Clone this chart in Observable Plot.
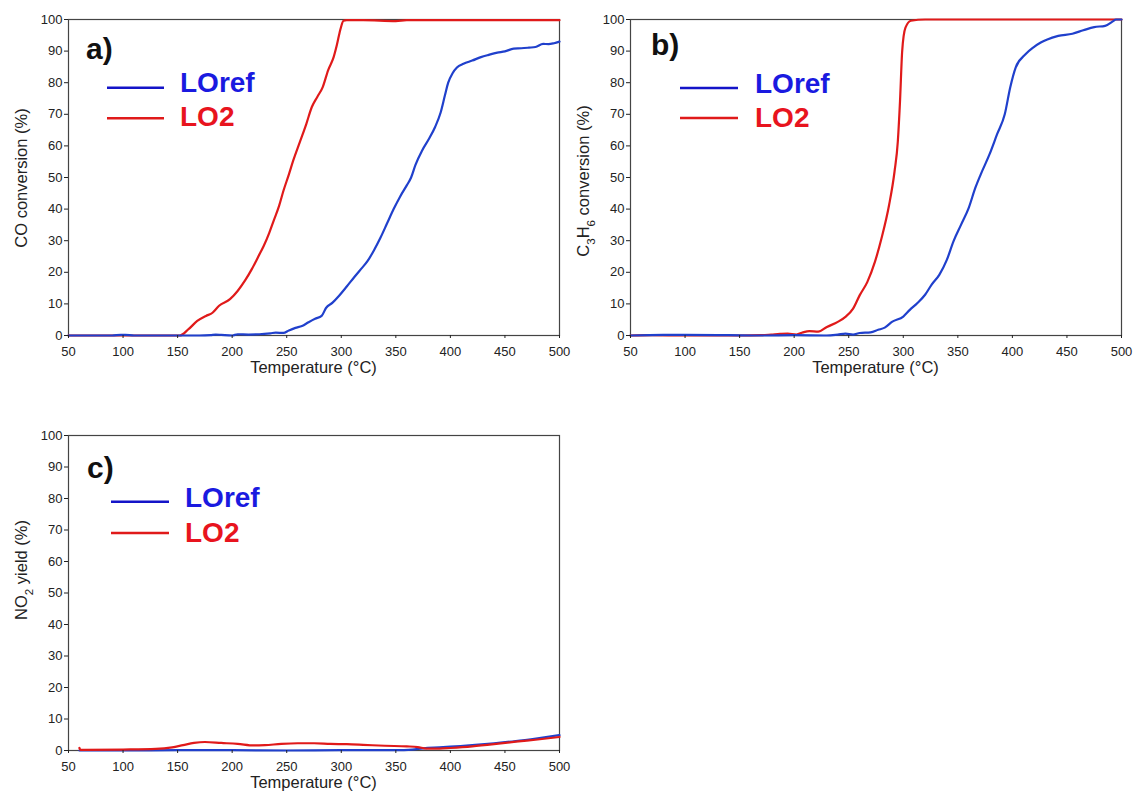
<!DOCTYPE html>
<html><head><meta charset="utf-8">
<script src="https://cdn.jsdelivr.net/npm/d3@7"></script>
<script src="https://cdn.jsdelivr.net/npm/@observablehq/plot@0.6"></script>
<style>
body{margin:0;background:#fff;}
#wrap{position:relative;width:1136px;height:794px;overflow:hidden;background:#fff;font-family:"Liberation Sans",Arial,sans-serif;}
#wrap svg{position:absolute;}
</style></head><body><div id="wrap"></div>
<script>
// ---------- data ----------
const xTicks = [50,100,150,200,250,300,350,400,450,500];
const yTicks = [0,10,20,30,40,50,60,70,80,90,100];
const seriesNames = ["LOref","LO2"];

// a) CO conversion
const coRefT = [50,60,70,80,90,98,102,110,120,130,140,150,160,170,180,185,190,200,205,215,225,235,240,247,252,258,264,270,276,282,286,292,298,305,312,318,324,330,336,342,348,354,360,364,368,374,380,386,391,395,398,402,406,412,420,428,435,443,450,458,465,472,478,485,490,495,500];
const coRefY = [0,0,0,0,0,0.2,0.2,0,0,0,0,0,0,0,0.1,0.3,0.2,0,0.4,0.3,0.4,0.7,0.9,0.8,1.6,2.4,3,4.2,5.3,6.2,8.7,10.4,12.6,15.5,18.5,21,23.5,27,31,35.5,40,44,47.5,50,54,58.5,62,66,70.5,76,80,83,84.8,86,87,88.1,88.8,89.5,89.9,90.8,90.9,91.1,91.3,92.3,92.2,92.5,93];
const coLO2T = [50,100,152,160,168,176,182,188,198,205,212,218,224,229,234,238,243,247,252,256,262,268,273,278,283,288,293,296,299,302,305,320,350,360,400,450,500];
const coLO2Y = [0,0,0,2,4.6,6.2,7.2,9.4,11.5,14.1,17.5,21,25,28.4,32.5,36.3,41,45.8,51,55.4,61.2,67,72.3,75.5,78.6,84,88.1,92,96.6,99.6,99.8,99.8,99.5,99.8,99.8,99.8,99.8];

// b) C3H6 conversion
const hcRefT = [50,80,100,140,170,200,230,240,247,254,260,270,277,283,290,300,306,313,320,326,333,340,346,353,360,366,371,379,386,393,398,403,412,419,426,432,442,455,465,475,485,492,495,500];
const hcRefY = [0,0.2,0.2,0.1,0,0.1,0,0.3,0.6,0.3,0.8,1,1.8,2.5,4.4,6,8.1,10.3,12.9,16.1,19.2,24,29.8,35.1,40.4,46.7,51,57.3,63.7,70,78.5,84.8,89,91.1,92.7,93.7,94.8,95.5,96.6,97.6,98,99.4,100,100];
const hcLO2T = [50,70,100,150,170,179,187,194,202,208,214,222,230,240,247,254,260,267,274,280,287,292,295,297,299,302,307,320,400,500];
const hcLO2Y = [0,0.1,0,0,0.1,0.3,0.5,0.6,0.3,1,1.4,1.2,2.7,4.3,5.9,8.5,12.7,16.9,23.3,30.7,41.3,51.9,61.4,74.1,90,97.4,99.6,100,100,100];

// c) NO2 yield
const noRefT = [60,100,150,200,250,300,350,365,375,390,400,420,440,460,480,500];
const noRefY = [0,0,0.1,0.1,0,0.1,0.1,0.3,0.7,1,1.2,1.7,2.3,3,3.9,4.9];
const noLO2T = [60,61,65,100,130,145,155,165,175,190,205,220,230,245,260,275,290,305,320,340,360,370,378,390,400,420,440,460,480,500];
const noLO2Y = [0.8,0.2,0.2,0.3,0.5,1,1.7,2.4,2.7,2.4,2.1,1.6,1.7,2.1,2.3,2.3,2.1,2,1.8,1.5,1.3,1.1,0.6,0.6,0.8,1.3,2,2.8,3.5,4.3];

const lineColor = {LOref: "#2040cc", LO2: "#e01a1a"};
const legendLineColor = {LOref: "#1414c8", LO2: "#e01a1a"};
const legendTextColor = {LOref: "#1a1ae0", LO2: "#e8141e"};

const FONT = '"Liberation Sans", Arial, sans-serif';
const wrap = document.getElementById("wrap");

function toRows(T, Y) { return T.map((t, i) => ({t, v: Y[i]})); }

function panel(cfg) {
  const W = 570, H = 390;
  const marks = [Plot.frame({stroke: "#444", strokeWidth: 1.2})];
  for (const s of cfg.order) {
    marks.push(Plot.line(toRows(cfg.data[s][0], cfg.data[s][1]), {
      x: "t", y: "v", stroke: lineColor[s], strokeWidth: 2.2, curve: "monotone-x"
    }));
  }
  marks.push(Plot.axisX({ticks: xTicks, tickSize: 3, tickPadding: 8, label: null, fontSize: 13}));
  marks.push(Plot.axisY({ticks: yTicks, tickSize: 4, tickPadding: 2, label: null, fontSize: 13}));
  const svg = Plot.plot({
    width: W, height: H,
    marginLeft: 68, marginRight: 11, marginTop: 19, marginBottom: cfg.mb,
    x: {domain: [50, 500]},
    y: {domain: [0, 100]},
    style: {fontFamily: FONT, fontSize: "13px", color: "#222", background: "transparent", overflow: "visible"},
    marks
  });
  svg.style.left = cfg.left + "px";
  svg.style.top = cfg.top + "px";
  svg.style.overflow = "visible";
  const g = d3.select(svg).append("g").attr("font-family", FONT).attr("text-anchor", "start");
  // x title
  const innerBottom = H - cfg.mb;
  g.append("text").attr("x", (68 + (W - 11)) / 2).attr("y", innerBottom + 38)
    .attr("text-anchor", "middle").attr("font-size", 16.5).attr("fill", "#222")
    .text("Temperature (\u00B0C)");
  // y title with subscripts
  const yt = g.append("text")
    .attr("transform", `translate(${cfg.ytX},${cfg.ytY}) rotate(-90)`)
    .attr("text-anchor", "middle").attr("font-size", 16.5).attr("fill", "#222");
  for (const part of cfg.ylabel) {
    if (part.sub) yt.append("tspan").attr("baseline-shift", "sub").attr("font-size", 11.5).text(part.sub);
    else yt.append("tspan").text(part.t);
  }
  // tag
  g.append("text").attr("x", cfg.tag.x).attr("y", cfg.tag.y).attr("font-size", 30)
    .attr("text-anchor", "start").attr("font-weight", "bold").attr("fill", "#111").text(cfg.tag.text);
  // legend
  seriesNames.forEach((s, i) => {
    const ly = cfg.leg.y[i];
    g.append("line").attr("x1", cfg.leg.x1).attr("x2", cfg.leg.x2).attr("y1", ly).attr("y2", ly)
      .attr("stroke", legendLineColor[s]).attr("stroke-width", 2.6);
    g.append("text").attr("x", cfg.leg.tx).attr("y", cfg.leg.ty[i]).attr("font-size", 28)
      .attr("text-anchor", "start").attr("font-weight", "bold").attr("fill", legendTextColor[s]).text(s);
  });
  wrap.appendChild(svg);
}

panel({
  left: 0, top: 0, mb: 55,
  data: {LOref: [coRefT, coRefY], LO2: [coLO2T, coLO2Y]},
  order: ["LO2", "LOref"],
  ylabel: [{t: "CO conversion (%)"}],
  ytX: 27, ytY: 178,
  tag: {text: "a)", x: 86, y: 59},
  leg: {x1: 107, x2: 164, y: [87.7, 118.3], tx: 180, ty: [91.7, 126]}
});
panel({
  left: 562, top: 0, mb: 55,
  data: {LOref: [hcRefT, hcRefY], LO2: [hcLO2T, hcLO2Y]},
  order: ["LO2", "LOref"],
  ylabel: [{t: "C"}, {sub: "3"}, {t: "H"}, {sub: "6"}, {t: " conversion (%)"}],
  ytX: 27, ytY: 181,
  tag: {text: "b)", x: 89, y: 55},
  leg: {x1: 118, x2: 176, y: [88, 118], tx: 193, ty: [93, 127]}
});
panel({
  left: 0, top: 416, mb: 56,
  data: {LOref: [noRefT, noRefY], LO2: [noLO2T, noLO2Y]},
  order: ["LOref", "LO2"],
  ylabel: [{t: "NO"}, {sub: "2"}, {t: " yield (%)"}],
  ytX: 27, ytY: 154,
  tag: {text: "c)", x: 87, y: 62},
  leg: {x1: 111, x2: 169, y: [85.7, 117], tx: 185, ty: [91, 125.7]}
});
</script>
</body></html>
